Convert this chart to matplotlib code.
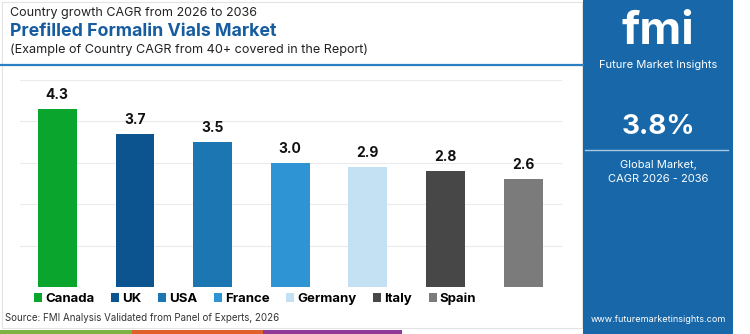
import matplotlib
matplotlib.use("Agg")
import matplotlib.pyplot as plt
from matplotlib.patches import Rectangle, Patch
from matplotlib.lines import Line2D

countries = ["Canada", "UK", "USA", "France", "Germany", "Italy", "Spain"]
cagr = [4.3, 3.7, 3.5, 3.0, 2.9, 2.8, 2.6]
colors = ["#0aa52c", "#0b5490", "#1b76b2", "#2f94d4", "#c4e1f3", "#474747", "#7b7b7b"]
yticks = [0, 1, 2, 3, 4, 5]

W, H = 750, 334
fig = plt.figure(figsize=(7.5, 3.34), dpi=100)
FONT = "Inter"

def fx(px): return px / W
def fy(py): return 1 - py / H

# chart panel frame
fig.patches.append(Rectangle((fx(2), fy(328)), fx(580), (328 - 2) / H, transform=fig.transFigure,
                             fill=False, edgecolor="#e3e3e3", lw=0.8, zorder=0))
# right blue panel
fig.patches.append(Rectangle((fx(583), 0), fx(150), 1, transform=fig.transFigure,
                             facecolor="#1868a9", edgecolor="none", zorder=1))
# bottom stripes
for x0, x1, c in [(0, 132, "#7cb342"), (132, 263, "#e0602a"), (263, 402, "#8e3a96")]:
    fig.patches.append(Rectangle((fx(x0), 0), fx(x1 - x0), 4 / H, transform=fig.transFigure,
                                 facecolor=c, edgecolor="none", zorder=1))
# title underline
fig.add_artist(Line2D([0, fx(583)], [fy(65), fy(65)], color="#2b7fc1", lw=1.6, transform=fig.transFigure))

fig.text(fx(10), fy(13), "Country growth CAGR from 2026 to 2036", fontsize=9, family=FONT,
         color="#222222", va="center", ha="left")
fig.text(fx(10), fy(32), "Prefilled Formalin Vials Market", fontsize=12.8, family=FONT,
         fontweight="bold", color="#165c9f", va="center", ha="left")
fig.text(fx(10), fy(50), "(Example of Country CAGR from 40+ covered in the Report)", fontsize=9.1,
         family=FONT, color="#222222", va="center", ha="left")

ax = fig.add_axes([fx(20), fy(287), fx(562 - 20), (287 - 80) / H])
x = list(range(len(countries)))
bars = ax.bar(x, cagr, width=0.5, color=colors, zorder=3)
for xi, v in zip(x, cagr):
    ax.text(xi, v + 0.17, f"{v:.1f}", ha="center", va="bottom", fontsize=10, fontweight="bold",
            family=FONT, color="#111111")
ax.set_xlim(-0.48, 6.5)
ax.set_ylim(0, 5)
ax.set_yticks(yticks)
ax.grid(axis="y", color="#ebebeb", lw=0.8, zorder=0)
ax.tick_params(left=False, bottom=False, labelleft=False, labelbottom=False)
for s in ax.spines.values():
    s.set_visible(False)

handles = [Patch(facecolor=c, edgecolor="none") for c in colors]
leg = fig.legend(handles, countries, loc="center left", bbox_to_anchor=(fx(34), fy(299)), ncol=7,
                 frameon=False, handlelength=0.6, handleheight=0.6, handletextpad=0.25,
                 columnspacing=1.25, prop={"family": FONT, "weight": "bold", "size": 9.5},
                 borderpad=0, borderaxespad=0)

fig.text(fx(5), fy(318), "Source: FMI Analysis Validated from Panel of Experts, 2026", fontsize=7,
         family=FONT, color="#333333", va="center", ha="left")

# right panel content
cx = fx(658)
fig.text(cx, fy(32), "fmi", fontsize=33, fontweight="bold", family=FONT, color="white",
         ha="center", va="center")
fig.text(cx, fy(65), "Future Market Insights", fontsize=8, family=FONT, color="white",
         ha="center", va="center")
fig.text(cx, fy(127), "3.8%", fontsize=20, fontweight="bold", family=FONT, color="white",
         ha="center", va="center")
fig.add_artist(Line2D([fx(585), fx(728)], [fy(150), fy(150)], color="#a9c8e4", lw=1.0,
                      transform=fig.transFigure))
fig.text(cx, fy(165), "Global Market,", fontsize=8, family=FONT, color="white", ha="center", va="center")
fig.text(cx, fy(179), "CAGR 2026 - 2036", fontsize=8, family=FONT, color="white", ha="center", va="center")
fig.text(cx, fy(319), "www.futuremarketinsights.com", fontsize=6.5, family=FONT, color="white",
         ha="center", va="center")

fig.savefig("out.png", dpi=100)
